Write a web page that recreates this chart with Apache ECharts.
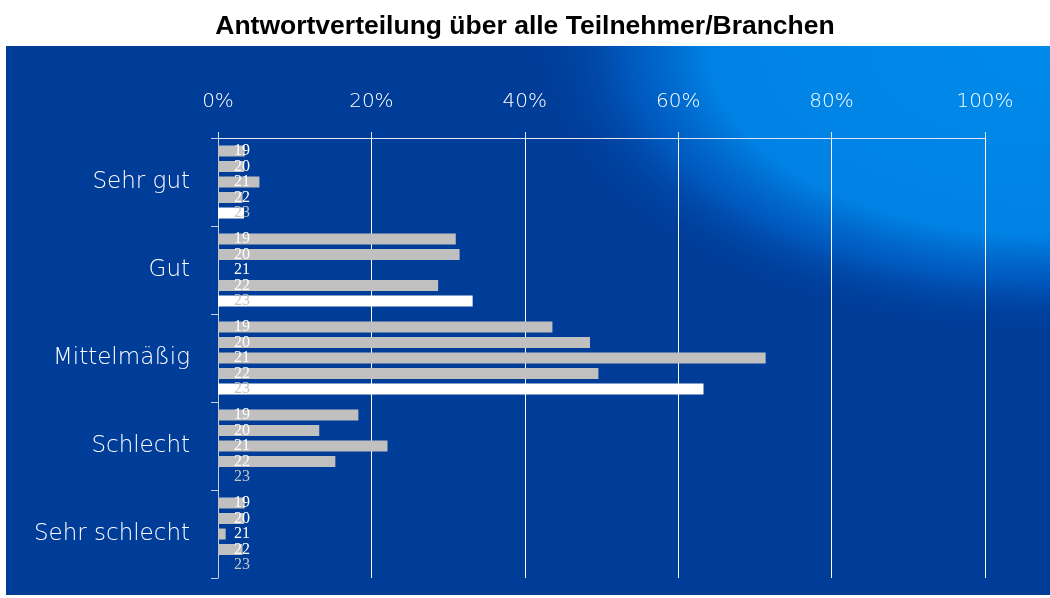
<!DOCTYPE html>
<html>
<head>
<meta charset="utf-8">
<script src="https://cdn.jsdelivr.net/npm/echarts@6/dist/echarts.min.js"></script>
<style>
  html, body { margin: 0; padding: 0; background: #fff; }
  #chart { width: 1050px; height: 598px; }
</style>
</head>
<body>
<div id="chart"></div>
<script>
// Antwortverteilung in Prozent, je Jahrgang
const categories = ['Sehr gut', 'Gut', 'Mittelmäßig', 'Schlecht', 'Sehr schlecht'];
const years = ['19', '20', '21', '22', '23'];
const values19 = [3.5, 31.0, 43.6, 18.3, 3.5];
const values20 = [3.4, 31.5, 48.5, 13.2, 3.4];
const values21 = [5.4, 0, 71.4, 22.1, 1.0];
const values22 = [3.2, 28.7, 49.6, 15.3, 3.2];
const values23 = [3.4, 33.2, 63.3, 0, 0];
const xTicks = [0, 20, 40, 60, 80, 100];

const allValues = [values19, values20, values21, values22, values23];
const barColors = ['#c0c0c0', '#c0c0c0', '#c0c0c0', '#c0c0c0', '#ffffff'];
const labelColors = ['#ffffff', '#ffffff', '#ffffff', '#ffffff', '#c4c4c4'];

const panel = { x: 6, y: 46, w: 1044, h: 549 };
const sx = 1.8;

const chart = echarts.init(document.getElementById('chart'));

const series = years.map((y, i) => ({
  name: y,
  type: 'bar',
  data: allValues[i],
  barWidth: 11,
  barGap: '41%',
  itemStyle: { color: barColors[i] },
  label: {
    show: true,
    position: [16, '50%'],
    verticalAlign: 'middle',
    align: 'left',
    formatter: y,
    fontFamily: '"Liberation Serif", "Times New Roman", serif',
    fontSize: 16,
    color: labelColors[i]
  },
  silent: true
}));

chart.setOption({
  animation: false,
  title: {
    text: 'Antwortverteilung über alle Teilnehmer/Branchen',
    left: 'center',
    top: 8,
    textStyle: {
      fontFamily: '"Liberation Sans", Arial, sans-serif',
      fontWeight: 'bold',
      fontSize: 26.5,
      color: '#000'
    }
  },
  graphic: [
    {
      type: 'rect',
      z: -10,
      silent: true,
      shape: { x: panel.x, y: panel.y, width: panel.w, height: panel.h },
      style: { fill: '#003d99' }
    },
    {
      type: 'rect',
      z: -9,
      silent: true,
      x: panel.x,
      y: panel.y,
      scaleX: sx,
      shape: { x: 0, y: 0, width: panel.w / sx, height: panel.h },
      style: {
        fill: {
          type: 'radial',
          x: 1, y: 0, r: 0.69,
          colorStops: [
            { offset: 0, color: 'rgba(0,138,234,1)' },
            { offset: 0.5, color: 'rgba(0,130,228,1)' },
            { offset: 0.62, color: 'rgba(0,100,205,0.7)' },
            { offset: 0.76, color: 'rgba(0,61,153,0)' }
          ]
        }
      }
    }
  ],
  grid: {
    left: 218,
    right: 65,
    top: 138,
    bottom: 20,
    containLabel: false
  },
  xAxis: {
    type: 'value',
    position: 'top',
    min: 0,
    max: 100,
    interval: 20,
    axisLine: { show: true, lineStyle: { color: '#dfe5f2', width: 1 } },
    axisTick: { show: true, length: 6, lineStyle: { color: '#dfe5f2' } },
    splitLine: { show: true, lineStyle: { color: '#ffffff', width: 1 } },
    axisLabel: {
      margin: 26,
      formatter: v => (xTicks.indexOf(v) >= 0 ? v + '%' : ''),
      color: '#ffffff',
      fontFamily: '"DejaVu Sans", sans-serif',
      fontWeight: 200,
      fontSize: 20
    }
  },
  yAxis: {
    type: 'category',
    data: categories,
    inverse: true,
    axisLine: { show: true, lineStyle: { color: '#c4cde6', width: 1 } },
    axisTick: { show: true, length: 7, lineStyle: { color: '#c4cde6' } },
    splitLine: { show: false },
    axisLabel: {
      margin: 28,
      color: '#ffffff',
      fontFamily: '"DejaVu Sans", sans-serif',
      fontWeight: 200,
      fontSize: 23
    }
  },
  series: series
});
</script>
</body>
</html>
